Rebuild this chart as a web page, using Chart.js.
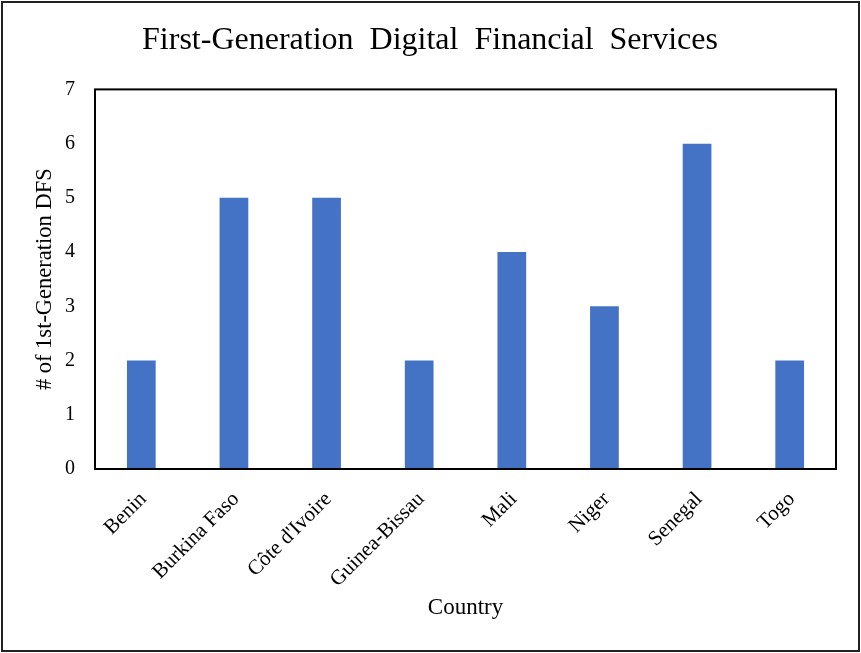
<!DOCTYPE html>
<html>
<head>
<meta charset="utf-8">
<script src="https://cdn.jsdelivr.net/npm/chart.js@4"></script>
<style>
  html, body { margin: 0; padding: 0; background: #fff; }
  #wrap { width: 861px; height: 653px; }
</style>
</head>
<body>
<div id="wrap"><canvas id="dfsChart" width="861" height="653"></canvas></div>
<script>
const countries = ["Benin", "Burkina Faso", "Côte d'Ivoire", "Guinea-Bissau", "Mali", "Niger", "Senegal", "Togo"];
const dfsCounts = [2, 5, 5, 2, 4, 3, 6, 2];
const yTicks = [0, 1, 2, 3, 4, 5, 6, 7];

const serif = "'Liberation Serif', 'Times New Roman', serif";

// box around plot area + outer frame
const frames = {
  id: "frames",
  afterDraw(c) {
    const ctx = c.ctx, a = c.chartArea;
    ctx.save();
    ctx.strokeStyle = "#000";
    ctx.lineWidth = 2;
    ctx.strokeRect(a.left, a.top, a.right - a.left, a.bottom - a.top);
    ctx.strokeStyle = "#222";
    ctx.strokeRect(2, 2, 857, 649);
    ctx.restore();
  }
};

const chart = document.getElementById("dfsChart").getContext("2d");

new Chart(chart, {
  type: "bar",
  data: {
    labels: countries,
    datasets: [{
      data: dfsCounts,
      backgroundColor: "#4472C4",
      categoryPercentage: 1,
      barPercentage: 0.31
    }]
  },
  options: {
    responsive: false,
    animation: false,
    layout: { padding: { left: 12, right: 13, top: 0, bottom: 0 } },
    plugins: {
      legend: { display: false },
      tooltip: { enabled: false },
      title: {
        display: true,
        text: "First-Generation  Digital  Financial  Services",
        color: "#000",
        font: { family: serif, size: 32, weight: "normal" },
        padding: { top: 21, bottom: 30 }
      }
    },
    scales: {
      x: {
        afterFit(axis) { axis.height = 184; },
        grid: { display: false, drawTicks: false },
        border: { display: false },
        ticks: {
          color: "#000",
          font: { family: serif, size: 21 },
          minRotation: 45,
          maxRotation: 45,
          padding: 18,
          labelOffset: 2
        },
        title: {
          display: true,
          text: "Country",
          color: "#000",
          font: { family: serif, size: 23 },
          padding: { bottom: 31 }
        }
      },
      y: {
        min: 0,
        max: 7,
        afterBuildTicks(axis) { axis.ticks = yTicks.map(v => ({ value: v })); },
        afterFit(axis) { axis.width = 83; },
        grid: { display: false, drawTicks: false },
        border: { display: false },
        ticks: {
          color: "#000",
          font: { family: serif, size: 20 },
          padding: 20
        },
        title: {
          display: true,
          text: "# of 1st-Generation DFS",
          color: "#000",
          font: { family: serif, size: 22.5 },
          padding: { top: 20 }
        }
      },
      // empty spacer on the right so the plot ends where the original does
      yRight: {
        position: "right",
        afterFit(axis) { axis.width = 12; },
        grid: { display: false, drawTicks: false },
        border: { display: false },
        ticks: { display: false }
      }
    }
  },
  plugins: [frames]
});
</script>
</body>
</html>
